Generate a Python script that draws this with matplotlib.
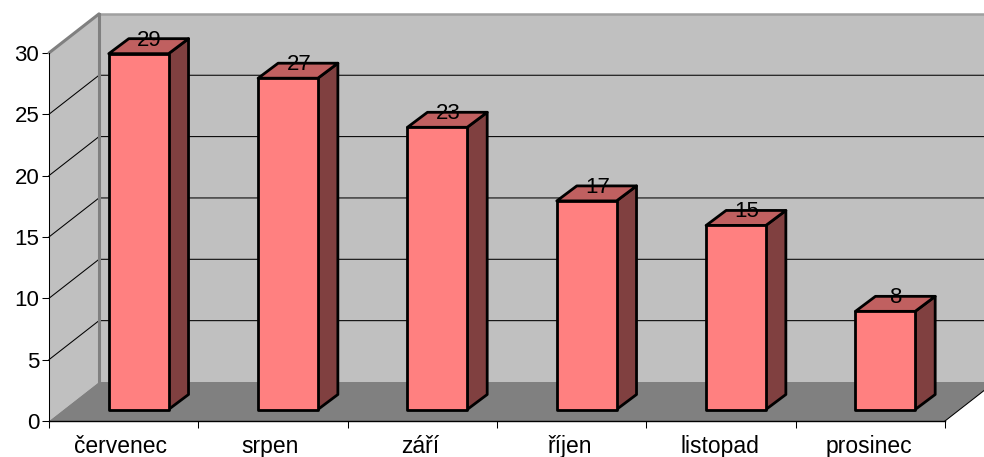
import matplotlib.pyplot as plt
from matplotlib.patches import Polygon

plt.rcParams['font.family'] = ['Liberation Sans', 'DejaVu Sans']

months = ['červenec', 'srpen', 'září', 'říjen', 'listopad', 'prosinec']
counts = [29, 27, 23, 17, 15, 8]
y_ticks = [0, 5, 10, 15, 20, 25, 30]

# one category is 149.33 px, one unit of value 12.27 px
cat_px = 149.33
val_px = 12.27

# oblique offset of the back wall and of the bars, in data units
depth_x = 50 / cat_px
depth_y = 39 / val_px
gap_x = 15 / cat_px
gap_y = 11.5 / val_px
bar_dx = 20 / cat_px
bar_dy = 15 / val_px
bar_w = 0.4

fig = plt.figure(figsize=(9.84, 4.57), dpi=100)
ax = fig.add_axes([0, 0, 1, 1])
ax.set_xlim(-49 / cat_px, (984 - 49) / cat_px)
ax.set_ylim(-36 / val_px, 421 / val_px)
ax.patch.set_visible(False)

n = len(months)
top = y_ticks[-1]

# walls and floor
ax.add_patch(Polygon([(depth_x, depth_y), (n + depth_x, depth_y), (n + depth_x, top + depth_y), (depth_x, top + depth_y)],
                     fc='#c0c0c0', ec='none', zorder=1))
ax.add_patch(Polygon([(0, 0), (depth_x, depth_y), (depth_x, top + depth_y), (0, top)],
                     fc='#c0c0c0', ec='none', zorder=1))
ax.add_patch(Polygon([(0, 0), (n, 0), (n + depth_x, depth_y), (depth_x, depth_y)],
                     fc='#808080', ec='none', zorder=1))

# gridlines run along the side wall and then the back wall
for v in y_ticks[1:-1]:
    ax.plot([0, depth_x, n + depth_x], [v, v + depth_y, v + depth_y], color='black', lw=0.75, zorder=2)

ax.plot([0, depth_x], [top, top + depth_y], color='#808080', lw=2.2, zorder=2, solid_capstyle='round')
ax.plot([depth_x, n + depth_x], [top + depth_y, top + depth_y], color='#a0a0a0', lw=1.8, zorder=2)
ax.plot([depth_x, depth_x], [depth_y, top + depth_y], color='#808080', lw=2.2, zorder=2)
ax.plot([n, n + depth_x], [0, depth_y], color='black', lw=0.75, zorder=2)

# bars
for i, c in enumerate(counts):
    x0 = i + 0.5 - bar_w / 2 + gap_x
    x1 = x0 + bar_w
    y0 = gap_y
    y1 = c + gap_y
    ax.add_patch(Polygon([(x1, y0), (x1 + bar_dx, y0 + bar_dy), (x1 + bar_dx, y1 + bar_dy), (x1, y1)],
                         fc='#804040', ec='black', lw=2, joinstyle='round', zorder=3))
    ax.add_patch(Polygon([(x0, y1), (x1, y1), (x1 + bar_dx, y1 + bar_dy), (x0 + bar_dx, y1 + bar_dy)],
                         fc='#c06060', ec='black', lw=2, joinstyle='round', zorder=3))
    ax.add_patch(Polygon([(x0, y0), (x1, y0), (x1, y1), (x0, y1)],
                         fc='#ff8080', ec='black', lw=2, joinstyle='round', zorder=4))
    ax.text((x0 + x1) / 2 + bar_dx / 2 + 1 / cat_px, y1 + 8 / val_px, str(c), ha='center', va='baseline',
            fontsize=16, color='black', zorder=5)

# axes lines and tick marks
for s in ['top', 'right']:
    ax.spines[s].set_visible(False)
ax.spines['left'].set_position(('data', 0))
ax.spines['left'].set_bounds(0, top)
ax.spines['left'].set_linewidth(0.75)
ax.spines['left'].set_zorder(2.5)
ax.spines['bottom'].set_position(('data', 0))
ax.spines['bottom'].set_bounds(0, n)
ax.spines['bottom'].set_linewidth(1)
ax.spines['bottom'].set_zorder(2.5)

ax.set_yticks(y_ticks)
ax.tick_params(axis='y', length=5, width=0.75, labelsize=16, pad=2)
ax.set_xticks(range(n + 1))
ax.set_xticklabels([])
ax.tick_params(axis='x', length=5, width=0.75)
for i, m in enumerate(months):
    ax.text(i + 0.5 + (0.4 * i - 3) / cat_px, -32 / val_px, m, ha='center', va='baseline', fontsize=16.5, color='black')

fig.savefig('out.png', dpi=100)
